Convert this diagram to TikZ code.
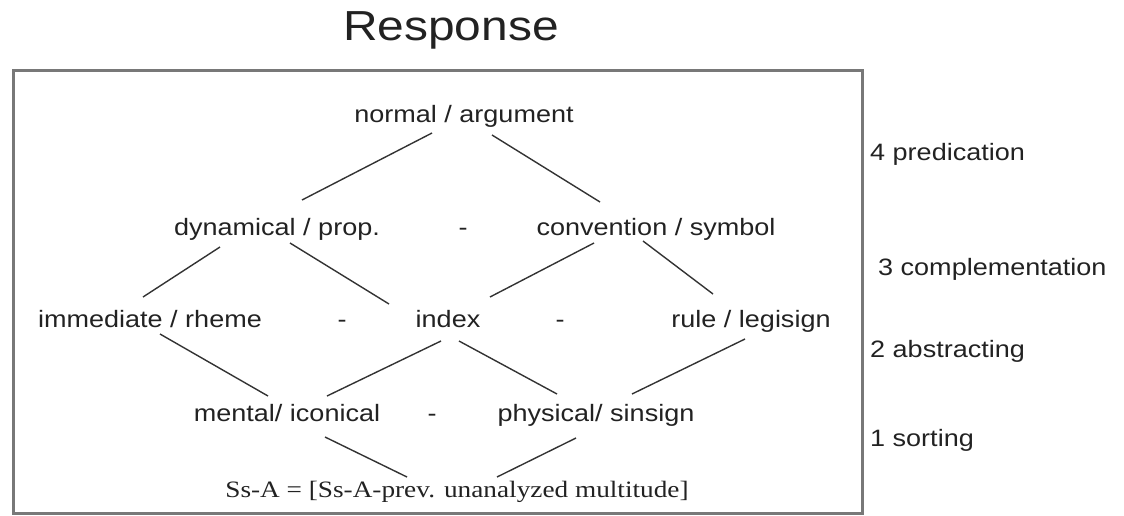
\documentclass[tikz,border=0pt]{standalone}
\usepackage{fontspec}
\setmainfont{Liberation Sans}[FakeStretch=1.14]
\newfontfamily\ssfont{Liberation Serif}[FakeStretch=1.16]
\usepackage{tikz}
\usetikzlibrary{positioning}
\definecolor{textdark}{HTML}{222222}
\definecolor{linedark}{HTML}{333333}
\definecolor{framegray}{HTML}{787878}
\tikzstyle{term} = [inner sep=0pt, anchor=base, text=textdark, font=\fontsize{23.7}{28}\selectfont]
\tikzstyle{stage} = [term, anchor=base west]
\tikzstyle{link} = [draw=linedark, line width=1.4pt]
\tikzstyle{frame} = [draw=framegray, line width=3pt]

\begin{document}
\begin{tikzpicture}[x=1pt, y=-1pt]
        \useasboundingbox (0,0) rectangle (1124,515);
        \node (title) [term, font=\fontsize{42}{50}\selectfont] at (451,40) {Response};
        \draw [frame] (13,70) rectangle (862,513);

        % levels of the lattice
        \node (normal) [term] at (464,122) {normal / argument};
        \node (dyn) [term] at (277,235) {dynamical / prop.};
        \node (dash1) [term] at (463,235) {-};
        \node (conv) [term] at (656,235) {convention / symbol};
        \node (imm) [term] at (150,327) {immediate / rheme};
        \node (dash2) [term] at (342,327) {-};
        \node (index) [term] at (448,327) {index};
        \node (dash3) [term] at (560,327) {-};
        \node (rule) [term] at (751,327) {rule / legisign};
        \node (mental) [term] at (287,421) {mental/ iconical};
        \node (dash4) [term] at (432,421) {-};
        \node (phys) [term] at (596,421) {physical/ sinsign};
        \node (ssa) [term, font=\ssfont\fontsize{23.5}{28}\selectfont] at (457,497) {Ss-A = [Ss-A-prev. unanalyzed multitude]};

        % stages on the right
        \node (pred) [stage] at (870,160) {4 predication};
        \node (compl) [stage] at (878,275) {3 complementation};
        \node (abstr) [stage] at (870,357) {2 abstracting};
        \node (sort) [stage] at (870,446) {1 sorting};

        \draw [link] ([shift={(-32,11)}]normal.base) -- ([shift={(25,-35)}]dyn.base);
        \draw [link] ([shift={(28,13)}]normal.base) -- ([shift={(-56,-33)}]conv.base);
        \draw [link] ([shift={(-57,12)}]dyn.base) -- ([shift={(-7,-30)}]imm.base);
        \draw [link] ([shift={(13,8)}]dyn.base) -- ([shift={(-59,-23)}]index.base);
        \draw [link] ([shift={(-62,8)}]conv.base) -- ([shift={(42,-30)}]index.base);
        \draw [link] ([shift={(-13,6)}]conv.base) -- ([shift={(-38,-33)}]rule.base);
        \draw [link] ([shift={(10,7)}]imm.base) -- ([shift={(-19,-25)}]mental.base);
        \draw [link] ([shift={(-7,14)}]index.base) -- ([shift={(40,-25)}]mental.base);
        \draw [link] ([shift={(11,14)}]index.base) -- ([shift={(-39,-27)}]phys.base);
        \draw [link] ([shift={(-6,12)}]rule.base) -- ([shift={(36,-27)}]phys.base);
        \draw [link] ([shift={(38,16)}]mental.base) -- ([shift={(-50,-20)}]ssa.base);
        \draw [link] ([shift={(-20,17)}]phys.base) -- ([shift={(40,-20)}]ssa.base);
\end{tikzpicture}
\end{document}
